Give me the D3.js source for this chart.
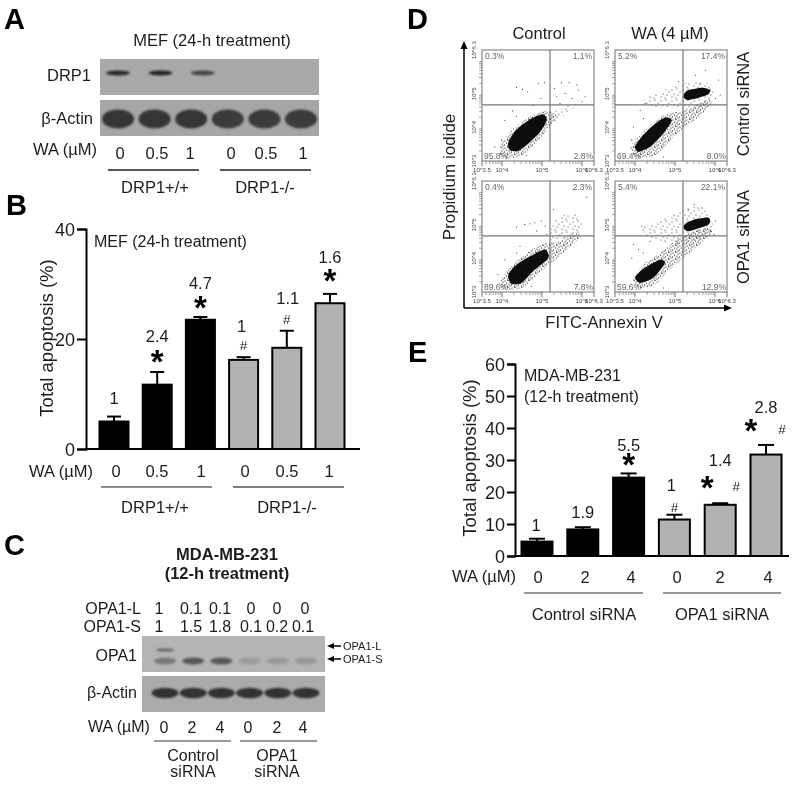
<!DOCTYPE html>
<html><head><meta charset="utf-8">
<script src="https://cdn.jsdelivr.net/npm/d3@7"></script>
<style>html,body{margin:0;background:#fff}svg{display:block}text{font-family:"Liberation Sans",Arial,sans-serif;fill:#1c1c1c}</style>
</head><body><svg id="c" width="800" height="788"></svg>
<script>
// ---------- Data ----------
const doseB = ["0","0.5","1","0","0.5","1"];
const valuesB = [5, 11.7, 23.5, 16.2, 18.4, 26.5];
const errTopB = [5.9, 14, 24, 16.7, 21.5, 28.2];
const foldB = ["1","2.4","4.7","1","1.1","1.6"];
const markB = ["","*","*","#","#","*"];
const groupB = ["DRP1+/+","DRP1+/+","DRP1+/+","DRP1-/-","DRP1-/-","DRP1-/-"];

const doseE = ["0","2","4","0","2","4"];
const valuesE = [4.5, 8.3, 24.5, 11.4, 16, 31.7];
const errTopE = [5.4, 9, 25.8, 12.9, 16.5, 34.7];
const foldE = ["1","1.9","5.5","1","1.4","2.8"];
const markE = ["","","*","#","*#","*#"];

const drp1Intensity = [0.9, 0.95, 0.7, 0, 0, 0];
const actinA = [1, 1, 1, 0.95, 0.95, 0.95];
const opa1L = ["1","0.1","0.1","0","0","0"];
const opa1S = ["1","1.5","1.8","0.1","0.2","0.1"];
const opa1LBand = [0.55, 0, 0, 0, 0, 0];
const opa1SBand = [0.45, 0.7, 0.7, 0.18, 0.2, 0.22];
const actinC = [1, 1, 1, 1, 1, 1];
const doseC = ["0","2","4","0","2","4"];

const quadTL = ["0.3%","1.1%","95.8%","2.8%"];
const quadTR = ["5.2%","17.4%","69.4%","8.0%"];
const quadBL = ["0.4%","2.3%","89.6%","7.8%"];
const quadBR = ["5.4%","22.1%","59.6%","12.9%"];

// flow-cytometry clouds, outlines in log10(Annexin), log10(PI)
const tlCore = [[[4.15,3.52],[4.20,3.32],[4.41,3.30],[4.66,3.52],[4.95,3.86],[5.12,4.21],[5.03,4.39],[4.78,4.29],[4.49,4.06],[4.28,3.82]]];
const tlMid = [[[3.94,3.22],[4.11,3.07],[4.49,3.17],[4.91,3.62],[5.28,4.16],[5.37,4.36],[5.08,4.49],[4.66,4.31],[4.24,3.91],[3.99,3.52]]];
const tlLight = [[[5.16,4.06],[5.58,4.36],[5.96,4.81],[5.83,4.76],[5.49,4.56],[5.16,4.36]]];
const tlDots = [[4.36,5.19],[4.51,5.13],[4.64,5.06],[4.91,5.31],[5.06,5.33],[4.97,4.86],[4.78,4.66],[4.26,4.49],[4.36,4.33],[5.49,5.33],[5.68,5.33],[5.87,5.26],[5.31,5.16],[5.58,5.01],[5.91,5.11],[6.08,4.91],[5.37,4.91],[5.75,4.86],[5.45,4.71],[6.0,4.76],[4.07,4.21],[3.99,3.62],[3.82,3.42],[4.61,3.17],[5.2,4.46]];

const trCore = [[[4.00,3.42],[4.09,3.27],[4.38,3.42],[4.71,3.82],[4.92,4.21],[4.75,4.29],[4.46,4.06],[4.17,3.72]],
                [[5.21,4.91],[5.34,4.81],[5.80,4.96],[5.88,5.11],[5.67,5.18],[5.30,5.09]]];
const trMid = [[[3.88,3.42],[4.04,3.12],[4.50,3.17],[5.05,3.82],[5.55,4.26],[5.92,4.71],[5.80,4.81],[5.38,4.56],[5.05,4.46],[4.71,4.36],[4.29,3.96]]];
const trLight = [[[4.25,4.86],[4.29,4.61],[5.05,4.56],[5.55,4.56],[5.97,4.91],[5.92,5.26],[5.46,5.36],[4.92,5.21],[4.55,5.01]]];
const trDots = [[5.76,5.70],[5.51,5.55],[5.21,5.41],[5.09,5.36],[4.13,4.51],[4.21,4.26],[3.96,4.01],[3.92,3.62],[4.71,3.12],[6.09,5.41],[6.13,4.96],[6.01,4.86],[4.25,4.71],[5.63,5.31]];

const blCore = [[[4.15,3.47],[4.24,3.24],[4.49,3.27],[4.78,3.62],[5.16,4.01],[5.08,4.26],[4.78,4.11],[4.45,3.89],[4.24,3.67]]];
const blMid = [[[3.94,3.27],[4.07,3.07],[4.49,3.12],[4.99,3.62],[5.58,4.21],[5.96,4.66],[5.83,4.76],[5.41,4.51],[4.99,4.41],[4.57,4.11],[4.20,3.72]]];
const blLight = [[[5.20,4.56],[5.37,5.21],[5.83,5.33],[6.04,4.96],[5.91,4.69]]];
const blDots = [[4.36,4.93],[4.57,5.01],[4.70,5.03],[4.82,5.06],[4.99,5.11],[5.08,4.96],[5.29,5.46],[6.12,5.82],[4.87,4.81],[4.45,4.36],[4.36,4.16],[4.07,3.96],[5.12,4.71],[3.90,3.52],[4.74,3.17]];

const brCore = [[[4.00,3.42],[4.13,3.27],[4.46,3.42],[4.75,3.86],[4.63,3.96],[4.38,3.82],[4.13,3.62]],
                [[5.21,4.91],[5.34,4.81],[5.84,5.01],[5.84,5.21],[5.51,5.16],[5.26,5.03]]];
const brMid = [[[3.96,3.37],[4.13,3.12],[4.50,3.22],[4.92,3.72],[5.46,4.26],[5.92,4.76],[5.80,4.91],[5.38,4.76],[5.00,4.51],[4.63,4.16],[4.25,3.86]]];
const brLight = [[[4.17,4.91],[4.38,4.61],[5.05,4.41],[5.88,4.71],[5.92,5.21],[5.55,5.55],[5.05,5.36],[4.55,5.11]]];
const brDots = [[5.48,5.60],[5.67,5.50],[5.34,5.46],[4.17,4.96],[3.96,4.41],[4.09,4.26],[4.21,4.16],[3.92,4.01],[4.38,4.51],[6.01,5.11],[5.97,4.71],[4.71,3.12]];

const xDecades = [3.5, 4, 5, 6, 6.3];
const yDecades = [3, 4, 5, 6.3];

// ---------- Drawing ----------
const svg = d3.select("#c");
const defs = svg.append("defs");
defs.append("filter").attr("id","soft").append("feGaussianBlur").attr("stdDeviation",0.35);
defs.append("filter").attr("id","band").attr("x","-30%").attr("y","-60%").attr("width","160%").attr("height","220%").append("feGaussianBlur").attr("stdDeviation",1.2);
defs.append("filter").attr("id","cloud").append("feGaussianBlur").attr("stdDeviation",0.45);

function stipple(id, size, dots, r){
  const p = defs.append("pattern").attr("id",id).attr("width",size).attr("height",size).attr("patternUnits","userSpaceOnUse");
  p.selectAll("circle").data(dots).join("circle").attr("cx",d=>d[0]).attr("cy",d=>d[1]).attr("r",r).attr("fill","#000");
}
stipple("stipLight",11,[[1,2],[6,1],[9,4],[3,6],[7,7],[1,9],[5,10]],0.5);
stipple("stipMid",7,[[1,1],[4,0.5],[6,2],[2.5,3],[5,4],[0.5,5],[3.5,6],[6,6]],0.62);

const root = svg.append("g").attr("filter","url(#soft)");

function txt(t,x,y,size,opt={}){
  const n = root.append("text").attr("x",x).attr("y",y).attr("font-size",size).text(t);
  if(opt.anchor) n.attr("text-anchor",opt.anchor);
  if(opt.bold) n.attr("font-weight","bold");
  if(opt.fill) n.style("fill",opt.fill);
  if(opt.rotate) n.attr("transform",`rotate(${opt.rotate} ${x} ${y})`);
  return n;
}
function rule(x1,x2,y,color,w){ root.append("line").attr("x1",x1).attr("x2",x2).attr("y1",y).attr("y2",y).attr("stroke",color).attr("stroke-width",w||1.3); }

// panel letters
[["A",4,29],["B",6,215],["C",4,555],["D",407,29],["E",408,362]].forEach(d=>txt(d[0],d[1],d[2],29,{bold:true}).style("fill","#000"));

// blot helper
function blot(x,y,w,h,bg,centers,vals,opt){
  const g = root.append("g");
  if(bg) g.append("rect").attr("x",x).attr("y",y).attr("width",w).attr("height",h).attr("fill",bg);
  const lane = d3.scalePoint().domain(d3.range(vals.length)).range(centers);
  const shade = d3.scaleLinear().domain([0,1]).range([opt.base,opt.dark]);
  g.append("g").attr("filter","url(#band)").selectAll("ellipse").data(vals.map((v,i)=>[v,i]).filter(d=>d[0]>0)).join("ellipse")
    .attr("cx",d=>lane(d[1])).attr("cy",y+opt.cy).attr("rx",opt.rx).attr("ry",opt.ry)
    .attr("fill",d=>shade(d[0]));
}

// Panel A
txt("MEF (24-h treatment)",212,46,16.5,{anchor:"middle"});
blot(100,59,219,36,"#a9a9a9",[118,330],drp1Intensity,{cy:14,rx:12,ry:2.6,base:"#a9a9a9",dark:"#1a1a1a"});
blot(100,100,219,36,"#a6a6a6",[118,301],actinA,{cy:19,rx:16,ry:9.5,base:"#a6a6a6",dark:"#343434"});
txt("DRP1",91,81,16.5,{anchor:"end"});
txt("β-Actin",93,124,16.5,{anchor:"end"});
txt("WA (µM)",33,155,16.5);
const aCenters=[120,157,190,231,266,303];
doseB.forEach((d,i)=>txt(d,aCenters[i],159,16.5,{anchor:"middle"}));
rule(108,199,170,"#222");rule(220,311,170,"#222");
txt("DRP1+/+",155,193,16.5,{anchor:"middle"});
txt("DRP1-/-",265,193,16.5,{anchor:"middle"});

// bar chart helper
function bars(o){
  const y = d3.scaleLinear().domain(o.domain).range([o.y0,o.y1]);
  const x = d3.scalePoint().domain(d3.range(o.values.length)).range(o.xRange);
  const axis = d3.axisLeft(y).tickValues(o.ticks).tickSize(o.tick).tickFormat(d3.format("d"));
  const ag = root.append("g").attr("transform",`translate(${o.ax},0)`).call(axis);
  ag.selectAll("path,line").attr("stroke","#000").attr("stroke-width",2);
  ag.selectAll("text").attr("font-size",o.font).attr("x",-o.tick-2).attr("dy","0.35em");
  ag.attr("font-family",null);
  const g = root.append("g");
  o.values.forEach((v,i)=>{
    const cx=x(i), gray=i>=3, top=y(o.err[i]);
    g.append("line").attr("x1",cx).attr("x2",cx).attr("y1",y(v)).attr("y2",top).attr("stroke","#000").attr("stroke-width",2);
    g.append("line").attr("x1",cx-o.cap).attr("x2",cx+o.cap).attr("y1",top).attr("y2",top).attr("stroke","#000").attr("stroke-width",2);
    g.append("rect").attr("x",cx-o.bw/2).attr("width",o.bw).attr("y",y(v)).attr("height",y(0)-y(v))
      .attr("fill",gray?"#b2b2b2":"#000").attr("stroke","#000").attr("stroke-width",2);
    txt(o.fold[i],cx+o.labelDx[i],top-o.labelGap[i],o.font-1.5,{anchor:"middle"});
    const m=o.mark[i];
    if(m.includes("*")) txt("*",cx+o.starDx[i],top-o.markGap[i]+13,33,{anchor:"middle",bold:true}).style("fill","#000");
    if(m.includes("#")) txt("#",cx+(m.length>1?16:0)+o.labelDx[i]*0,top-o.markGap[i]+5,13.5,{anchor:"middle"});
  });
  rule(o.ax-1,o.xEnd,y(0),"#000",2);
}

// Panel B
bars({domain:[0,40],y0:449,y1:229,xRange:[114,330],ax:86,xEnd:360,tick:9,ticks:[0,20,40],font:18,
  values:valuesB,err:errTopB,fold:foldB,mark:markB,bw:29,cap:7,
  labelDx:[0,0,0,-2,1,0],starDx:[0,0,0,0,0,0],
  labelGap:[13,30,28,25,27,31],markGap:[0,12,11,12,12,15]});
txt("Total apoptosis (%)",47,338,18.5,{anchor:"middle",rotate:-90}).attr("dy","0.35em");
txt("MEF (24-h treatment)",94,247,16,{});
txt("WA  (µM)",29,477,16.5);
const bLab=[116,157,201,245,287,329];
doseB.forEach((d,i)=>txt(d,bLab[i],477,16.5,{anchor:"middle"}));
rule(101,212,487,"#666");rule(233,344,487,"#555");
const groupsB=[...new Set(groupB)];
txt(groupsB[0],155,513,16.5,{anchor:"middle"});
txt(groupsB[1],287,513,16.5,{anchor:"middle"});

// Panel C
txt("MDA-MB-231",227,560,16.5,{anchor:"middle",bold:true});
txt("(12-h treatment)",227,579,16.5,{anchor:"middle",bold:true});
txt("OPA1-L",141,614,16,{anchor:"end"});
txt("OPA1-S",141,632,16,{anchor:"end"});
const cLabL=[159,191,220,251,277,305], cLabS=[159,191,220,251,277,303];
opa1L.forEach((d,i)=>txt(d,cLabL[i],614,16,{anchor:"middle"}));
opa1S.forEach((d,i)=>txt(d,cLabS[i],632,16,{anchor:"middle"}));
blot(142,636,183,36,"#b4b4b4",[165,306],opa1SBand,{cy:25,rx:11,ry:3.4,base:"#b4b4b4",dark:"#303030"});
blot(142,636,183,36,null,[165,306],opa1LBand,{cy:14,rx:9,ry:1.6,base:"#b4b4b4",dark:"#202020"});
blot(142,676,183,36,"#ababab",[165,306],actinC,{cy:17,rx:13.5,ry:5.2,base:"#ababab",dark:"#333333"});
txt("OPA1",137,661,16,{anchor:"end"});
txt("β-Actin",137,698,16,{anchor:"end"});
[["OPA1-L",646],["OPA1-S",659]].forEach(d=>{
  root.append("line").attr("x1",341).attr("x2",331).attr("y1",d[1]).attr("y2",d[1]).attr("stroke","#000").attr("stroke-width",1.5);
  root.append("path").attr("d",`M327 ${d[1]} l7 -3 v6 z`).attr("fill","#000");
  txt(d[0],343,d[1]+4,11,{});
});
txt("WA (µM)",88,732,16);
const cLabW=[164,192,220,248,277,303];
doseC.forEach((d,i)=>txt(d,cLabW[i],733,16,{anchor:"middle"}));
rule(154,231,741,"#777");rule(240,317,741,"#777");
txt("Control",193,761,16,{anchor:"middle"});txt("siRNA",193,777,16,{anchor:"middle"});
txt("OPA1",277,761,16,{anchor:"middle"});txt("siRNA",277,777,16,{anchor:"middle"});

// Panel D
const panels=[
 {px:482,py:50,core:tlCore,mid:tlMid,light:tlLight,dots:tlDots,q:quadTL},
 {px:615,py:50,core:trCore,mid:trMid,light:trLight,dots:trDots,q:quadTR},
 {px:482,py:181,core:blCore,mid:blMid,light:blLight,dots:blDots,q:quadBL},
 {px:615,py:181,core:brCore,mid:brMid,light:brLight,dots:brDots,q:quadBR}];
const gateX=5.2, gateY=4.67, pw=112, ph=111;
const decadeSteps=[2,3,4,5,6,7,8,9];
panels.forEach(p=>{
  const g=root.append("g");
  const x=d3.scaleLinear().domain([3.5,6.3]).range([p.px,p.px+pw]);
  const y=d3.scaleLinear().domain([3,6.3]).range([p.py+ph,p.py]);
  const line=d3.line().x(d=>x(d[0])).y(d=>y(d[1])).curve(d3.curveCardinalClosed.tension(0.3));
  const cg=g.append("g").attr("filter","url(#cloud)");
  p.light.forEach(s=>cg.append("path").attr("d",line(s)).attr("fill","url(#stipLight)"));
  p.mid.forEach(s=>cg.append("path").attr("d",line(s)).attr("fill","url(#stipMid)"));
  p.core.forEach(s=>cg.append("path").attr("d",line(s)).attr("fill","#0a0a0a"));
  cg.selectAll("circle").data(p.dots).join("circle").attr("cx",d=>x(d[0])).attr("cy",d=>y(d[1])).attr("r",0.55).attr("fill","#222");
  g.append("rect").attr("x",p.px).attr("y",p.py).attr("width",pw).attr("height",ph).attr("fill","none").attr("stroke","#888").attr("stroke-width",1.2);
  g.append("line").attr("x1",x(gateX)).attr("x2",x(gateX)).attr("y1",p.py).attr("y2",p.py+ph).attr("stroke","#777").attr("stroke-width",1.2);
  g.append("line").attr("x1",p.px).attr("x2",p.px+pw).attr("y1",y(gateY)).attr("y2",y(gateY)).attr("stroke","#777").attr("stroke-width",1.2);
  // minor ticks
  const minorX=[3,4,5].flatMap(k=>decadeSteps.map(s=>k+Math.log10(s))).filter(v=>v>3.5&&v<6.3);
  const minorY=[3,4,5,6].flatMap(k=>decadeSteps.map(s=>k+Math.log10(s))).filter(v=>v>3&&v<6.3);
  minorX.forEach(v=>g.append("line").attr("x1",x(v)).attr("x2",x(v)).attr("y1",p.py+ph).attr("y2",p.py+ph+3).attr("stroke","#777").attr("stroke-width",0.7));
  minorY.forEach(v=>g.append("line").attr("y1",y(v)).attr("y2",y(v)).attr("x1",p.px-3).attr("x2",p.px).attr("stroke","#777").attr("stroke-width",0.7));
  xDecades.forEach(v=>{
    g.append("line").attr("x1",x(v)).attr("x2",x(v)).attr("y1",p.py+ph).attr("y2",p.py+ph+5).attr("stroke","#666").attr("stroke-width",0.9);
    g.append("text").attr("x",x(v)).attr("y",p.py+ph+11).attr("text-anchor","middle").attr("font-size",6).style("fill","#444").text("10^"+v);
  });
  yDecades.forEach(v=>{
    const ly=y(v);
    g.append("text").attr("transform",`translate(${p.px-6},${ly}) rotate(-90)`).attr("text-anchor","middle").attr("font-size",6).style("fill","#444").text("10^"+v);
  });
  const q=p.q;
  g.append("text").attr("x",p.px+3).attr("y",p.py+9).attr("font-size",8.5).style("fill","#666").text(q[0]);
  g.append("text").attr("x",p.px+pw-2).attr("y",p.py+9).attr("text-anchor","end").attr("font-size",8.5).style("fill","#666").text(q[1]);
  g.append("text").attr("x",p.px+2).attr("y",p.py+ph-2).attr("font-size",8.5).style("fill","#666").text(q[2]);
  g.append("text").attr("x",p.px+pw-1).attr("y",p.py+ph-2).attr("text-anchor","end").attr("font-size",8.5).style("fill","#666").text(q[3]);
});
txt("Control",539,39,16.5,{anchor:"middle"});
txt("WA (4 µM)",670,39,16.5,{anchor:"middle"});
txt("Control siRNA",743,104,16.5,{anchor:"middle",rotate:-90}).attr("dy","0.35em");
txt("OPA1 siRNA",743,237,16.5,{anchor:"middle",rotate:-90}).attr("dy","0.35em");
txt("Propidium iodide",449,177,17,{anchor:"middle",rotate:-90}).attr("dy","0.35em");
txt("FITC-Annexin V",604,328,16.5,{anchor:"middle"});
root.append("line").attr("x1",464).attr("x2",464).attr("y1",308).attr("y2",46).attr("stroke","#000").attr("stroke-width",1.5);
root.append("line").attr("x1",464).attr("x2",726).attr("y1",308).attr("y2",308).attr("stroke","#000").attr("stroke-width",1.5);
root.append("path").attr("d","M464 41 l-3.5 8 h7 z").attr("fill","#000");
root.append("path").attr("d","M732 308 l-8 -3.5 v7 z").attr("fill","#000");

// Panel E
bars({domain:[0,60],y0:556,y1:364,xRange:[537,766],ax:515,xEnd:789,tick:8,ticks:[0,10,20,30,40,50,60],font:18,
  values:valuesE,err:errTopE,fold:foldE,mark:markE,bw:31,cap:8,
  labelDx:[-1,0,0,-3,0,0],starDx:[0,0,0,0,-13,-15],
  labelGap:[8,9,22,24,37,32],markGap:[0,0,10,8,17,16]});
txt("Total apoptosis (%)",470,458,18.5,{anchor:"middle",rotate:-90}).attr("dy","0.35em");
txt("MDA-MB-231",524,381,16,{});
txt("(12-h treatment)",524,402,16,{});
txt("WA  (µM)",452,582,16.5);
const eLab=[538,585,631,677,720,768];
doseE.forEach((d,i)=>txt(d,eLab[i],583,16.5,{anchor:"middle"}));
rule(524,643,593,"#777");rule(663,781,593,"#777");
txt("Control siRNA",584,620,16.5,{anchor:"middle"});
txt("OPA1 siRNA",722,620,16.5,{anchor:"middle"});
</script></body></html>
